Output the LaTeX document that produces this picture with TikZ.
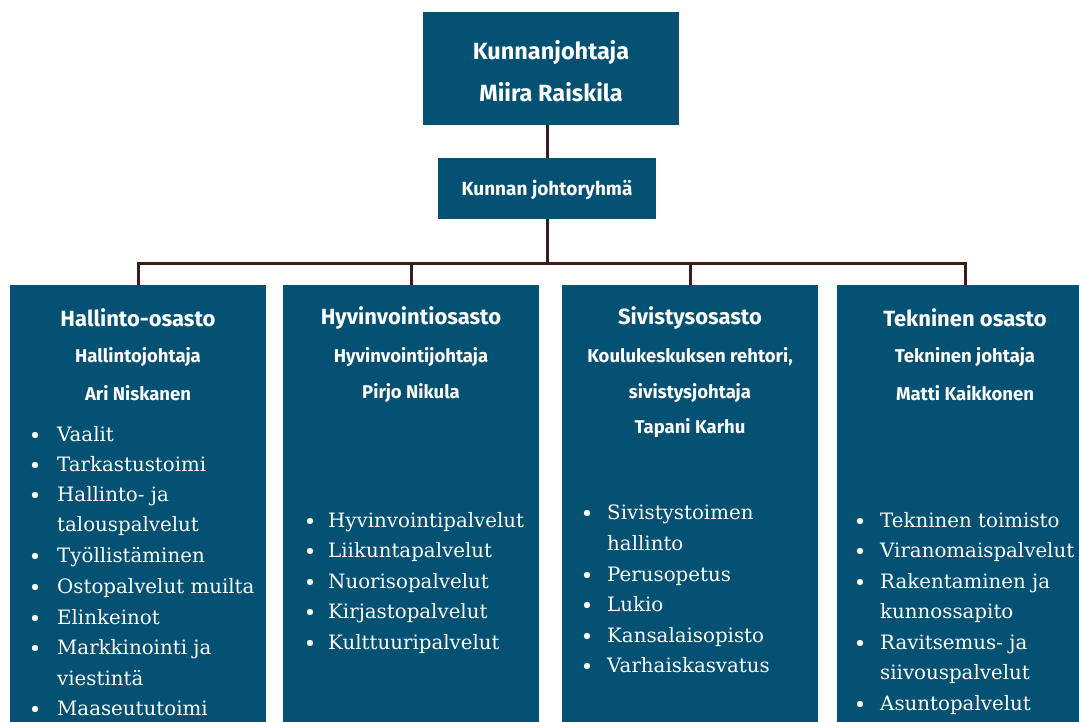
\documentclass[tikz,border=0pt]{standalone}
\usepackage{fontspec}
\newfontfamily\headfont{Fira Sans}
\newfontfamily\itemfont{DejaVu Serif}
\usetikzlibrary{positioning}
\definecolor{boxblue}{RGB}{4,81,115}
\definecolor{linebrown}{RGB}{58,30,26}

\begin{document}
\begin{tikzpicture}[x=1pt,y=-1pt,
        box/.style={fill=boxblue,inner sep=0pt},
        dept/.style={box,minimum width=256pt,minimum height=460pt,anchor=north},
        head/.style={text=white,inner sep=0pt,font=\headfont\bfseries\fontsize{22}{26}\selectfont},
        sub/.style={text=white,inner sep=0pt,font=\headfont\bfseries\fontsize{18.5}{22}\selectfont},
        item/.style={text=white,anchor=base west,inner sep=0pt,font=\itemfont\fontsize{19.8}{24}\selectfont},
        link/.style={draw=linebrown,line width=3pt}]
    \useasboundingbox[fill=white] (0,0) rectangle (1079,722);

    % top of the chart
    \node[box,minimum width=256pt,minimum height=113pt] (chief) at (551,68.5) {};
    \node[head,font=\headfont\bfseries\fontsize{23.5}{28}\selectfont] (chieft) at (551,53) {Kunnanjohtaja};
    \node[head,font=\headfont\bfseries\fontsize{23.5}{28}\selectfont] (chiefn) at (551,92) {Miira Raiskila};
    \node[box,minimum width=218pt,minimum height=61pt] (group) at (547,188.5) {};
    \node[sub,font=\headfont\bfseries\fontsize{19}{22}\selectfont] (groupt) at (547,190) {Kunnan johtoryhmä};

    % departments
    \node[dept] (d1) at (138,285) {};
    \node[dept] (d2) at (411,285) {};
    \node[dept] (d3) at (690,285) {};
    \node[dept] (d4) at (965,285) {};
    \coordinate (bar) at (547,263);

    \draw[link] (group.north) -- (group.north |- chief.south);
    \draw[link] (group.south) -- (group.south |- bar);
    \draw[link] (d1.north) -- (d1.north |- bar) -- (d4.north |- bar) -- (d4.north);
    \draw[link] (d2.north) -- (d2.north |- bar);
    \draw[link] (d3.north) -- (d3.north |- bar);

    % department heads
    \node[head] (h1) at (138,318) {Hallinto-osasto};
    \node[sub] (s1a) at (138,357) {Hallintojohtaja};
    \node[sub] (s1b) at (138,393) {Ari Niskanen};
    \node[head] (h2) at (411,318) {Hyvinvointiosasto};
    \node[sub] (s2a) at (411,357) {Hyvinvointijohtaja};
    \node[sub] (s2b) at (411,393) {Pirjo Nikula};
    \node[head] (h3) at (690,318) {Sivistysosasto};
    \node[sub] (s3a) at (690,357) {Koulukeskuksen rehtori,};
    \node[sub] (s3b) at (690,393) {sivistysjohtaja};
    \node[sub] (s3c) at (690,428) {Tapani Karhu};
    \node[head] (h4) at (965,318) {Tekninen osasto};
    \node[sub] (s4a) at (965,357) {Tekninen johtaja};
    \node[sub] (s4b) at (965,393) {Matti Kaikkonen};

    % task lists, y = baseline (1 = bullet, 0 = continued line)
    \foreach \yy/\txt/\b in {441/Vaalit/1, 471/Tarkastustoimi/1, 501/Hallinto- ja/1,
        531/talouspalvelut/0, 562/Työllistäminen/1, 593/Ostopalvelut muilta/1,
        624/Elinkeinot/1, 654/Markkinointi ja/1, 685/viestintä/0, 715/Maaseututoimi/1}{
        \node[item] (t1-\yy) at (57,\yy) {\txt};
        \ifnum\b=1 \fill[white] (35,\yy-6) circle (3.2); \fi
    }
    \foreach \yy/\txt/\b in {527/Hyvinvointipalvelut/1, 557/Liikuntapalvelut/1,
        588/Nuorisopalvelut/1, 618/Kirjastopalvelut/1, 649/Kulttuuripalvelut/1}{
        \node[item] (t2-\yy) at (328,\yy) {\txt};
        \ifnum\b=1 \fill[white] (310,\yy-6) circle (3.2); \fi
    }
    \foreach \yy/\txt/\b in {519/Sivistystoimen/1, 550/hallinto/0, 581/Perusopetus/1,
        611/Lukio/1, 642/Kansalaisopisto/1, 672/Varhaiskasvatus/1}{
        \node[item] (t3-\yy) at (607,\yy) {\txt};
        \ifnum\b=1 \fill[white] (587,\yy-6) circle (3.2); \fi
    }
    \foreach \yy/\txt/\b in {527/Tekninen toimisto/1, 557/Viranomaispalvelut/1,
        588/Rakentaminen ja/1, 618/kunnossapito/0, 649/Ravitsemus- ja/1,
        679/siivouspalvelut/0, 710/Asuntopalvelut/1}{
        \node[item] (t4-\yy) at (880,\yy) {\txt};
        \ifnum\b=1 \fill[white] (860,\yy-6) circle (3.2); \fi
    }
\end{tikzpicture}
\end{document}
